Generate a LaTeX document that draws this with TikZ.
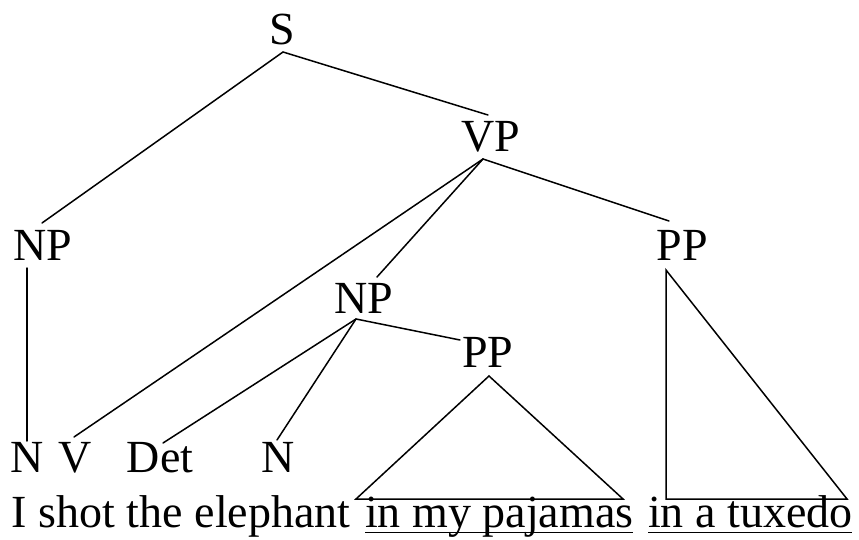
\documentclass[tikz,border=0pt]{standalone}
\usepackage{fontspec}
\setmainfont{Liberation Serif}
\tikzset{
  lbl/.style={inner sep=0pt, outer sep=0pt, anchor=base, font=\fontsize{46}{55}\selectfont},
  wrd/.style={inner sep=0pt, outer sep=0pt, anchor=base west, font=\fontsize{46}{55}\selectfont},
  edge/.style={line width=1.5pt, line cap=round, line join=miter}
}
\begin{document}
\begin{tikzpicture}[x=1pt, y=-1pt]
\useasboundingbox (0,0) rectangle (859,540);
% labels
\node[lbl] (S)   at (282.5,45)  {S};
\node[lbl] (VP)  at (491,152)   {VP};
\node[lbl] (NP1) at (42.5,260)  {NP};
\node[lbl] (PP2) at (682,260)   {PP};
\node[lbl] (NP2) at (363.5,313) {NP};
\node[lbl] (PP1) at (488,367)   {PP};
\node[lbl] (N1)  at (27.5,472)  {N};
\node[lbl] (V)   at (75,472)    {V};
\node[lbl] (Det) at (160,472)   {Det};
\node[lbl] (N2)  at (278,472)   {N};
% sentence
\node[wrd] (w1) at (12,527)  {I shot the elephant};
\node[wrd] (w2) at (365,527) {in my pajamas};
\node[wrd] (w3) at (648,527) {in a tuxedo};
% connector end points
\coordinate (Sb)   at (283,52);
\coordinate (VPt)  at (488,115);
\coordinate (VPb)  at (483,159);
\coordinate (NP1t) at (42,223);
\coordinate (NP1b) at (27,268);
\coordinate (N1t)  at (27,441);
\coordinate (Vt)   at (74,437);
\coordinate (NP2t) at (377,277);
\coordinate (NP2b) at (356,319);
\coordinate (PP2t) at (669,221);
\coordinate (PP2a) at (666,270);
\coordinate (PP2l) at (666,499);
\coordinate (PP2r) at (847,499);
\coordinate (Dett) at (163,443);
\coordinate (N2t)  at (277,440);
\coordinate (PP1t) at (460,340);
\coordinate (PP1a) at (489,376);
\coordinate (PP1l) at (356,499);
\coordinate (PP1r) at (623,499);
% tree edges
\draw[edge] (Sb) -- (NP1t);
\draw[edge] (Sb) -- (VPt);
\draw[edge] (VPb) -- (Vt);
\draw[edge] (VPb) -- (NP2t);
\draw[edge] (VPb) -- (PP2t);
\draw[edge] (NP1b) -- (N1t);
\draw[edge] (NP2b) -- (Dett);
\draw[edge] (NP2b) -- (N2t);
\draw[edge] (NP2b) -- (PP1t);
% triangles
\draw[edge] (PP1a) -- (PP1l) -- (PP1r) -- cycle;
\draw[edge] (PP2a) -- (PP2l) -- (PP2r) -- cycle;
% underlines
\draw[edge, line cap=butt] ([yshift=-5.5pt]w2.base west) -- ([yshift=-5.5pt]w2.base east);
\draw[edge, line cap=butt] ([yshift=-5.5pt]w3.base west) -- ([yshift=-5.5pt]w3.base east);
\end{tikzpicture}
\end{document}
